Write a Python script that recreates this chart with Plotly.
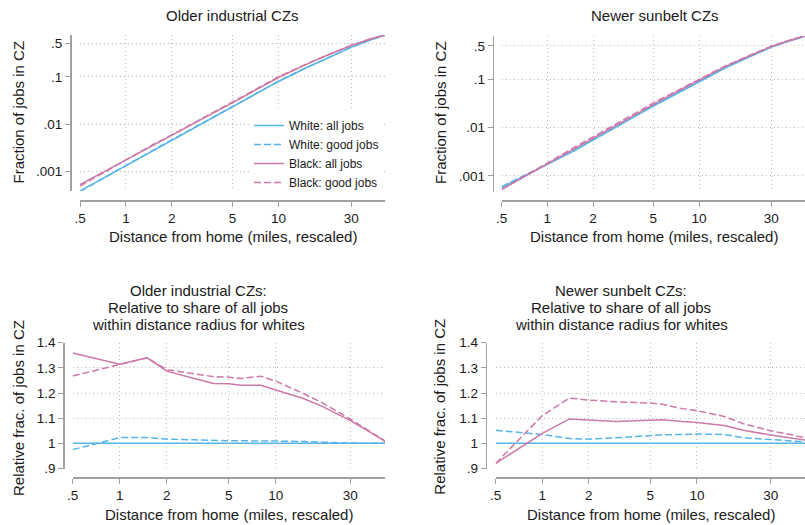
import plotly.graph_objects as go
import math

# ---------------- data ----------------
distance_miles = [0.5, 1, 1.5, 2, 3, 4, 5, 6, 8, 10, 15, 20, 30, 40, 50]

# Top panels: fraction of jobs in CZ within distance radius
old_white_all  = [0.00039, 0.00134, 0.00275, 0.0046, 0.0094, 0.0157, 0.0229, 0.0318, 0.053, 0.080, 0.152, 0.235, 0.42, 0.60, 0.76]
old_white_good = [0.00038, 0.00137, 0.00281, 0.00468, 0.00953, 0.01587, 0.02313, 0.03212, 0.05353, 0.08072, 0.1531, 0.2359, 0.4204, 0.60, 0.76]
old_black_all  = [0.00053, 0.00176, 0.00369, 0.00592, 0.01183, 0.01944, 0.02833, 0.03915, 0.06524, 0.09704, 0.1791, 0.2693, 0.4578, 0.627, 0.766]
old_black_good = [0.000495, 0.00176, 0.00369, 0.00595, 0.01201, 0.01986, 0.02892, 0.0400, 0.06715, 0.09976, 0.1821, 0.2726, 0.4603, 0.6282, 0.7676]

new_white_all  = [0.00057, 0.0017, 0.0033, 0.0055, 0.0115, 0.0192, 0.028, 0.038, 0.062, 0.090, 0.175, 0.265, 0.47, 0.64, 0.79]
new_white_good = [0.0006, 0.00176, 0.00336, 0.00559, 0.01175, 0.0197, 0.0289, 0.0393, 0.0642, 0.0933, 0.181, 0.2708, 0.477, 0.646, 0.795]
new_black_all  = [0.000524, 0.00177, 0.00362, 0.00602, 0.0125, 0.0209, 0.0306, 0.0416, 0.0674, 0.0975, 0.1874, 0.2788, 0.4855, 0.654, 0.80]
new_black_good = [0.000524, 0.00189, 0.00389, 0.00645, 0.0134, 0.0223, 0.0325, 0.0439, 0.0706, 0.1017, 0.1937, 0.2857, 0.4935, 0.662, 0.807]

# Bottom panels: relative to share of all jobs within radius for whites
old_rel_white_all  = [1.0] * 15
old_rel_white_good = [0.975, 1.023, 1.023, 1.017, 1.014, 1.011, 1.010, 1.010, 1.010, 1.009, 1.007, 1.004, 1.001, 1.000, 1.000]
old_rel_black_all  = [1.359, 1.314, 1.340, 1.287, 1.258, 1.238, 1.237, 1.231, 1.231, 1.213, 1.178, 1.146, 1.090, 1.045, 1.008]
old_rel_black_good = [1.268, 1.313, 1.340, 1.293, 1.278, 1.265, 1.263, 1.258, 1.267, 1.247, 1.198, 1.160, 1.096, 1.047, 1.010]

new_rel_white_all  = [1.0] * 15
new_rel_white_good = [1.052, 1.035, 1.019, 1.017, 1.022, 1.027, 1.032, 1.034, 1.035, 1.037, 1.035, 1.022, 1.015, 1.010, 1.006]
new_rel_black_all  = [0.920, 1.040, 1.097, 1.094, 1.087, 1.090, 1.093, 1.094, 1.087, 1.083, 1.071, 1.052, 1.033, 1.022, 1.013]
new_rel_black_good = [0.920, 1.110, 1.180, 1.172, 1.165, 1.162, 1.160, 1.155, 1.138, 1.130, 1.107, 1.078, 1.050, 1.035, 1.022]

series_names = ["White: all jobs", "White: good jobs", "Black: all jobs", "Black: good jobs"]

x_tickvals = [0.5, 1, 2, 5, 10, 30]
x_ticktext = [".5", "1", "2", "5", "10", "30"]
ytop_tickvals = [0.001, 0.01, 0.1, 0.5]
ytop_ticktext = [".001", ".01", ".1", ".5"]
ybot_tickvals = [0.9, 1.0, 1.1, 1.2, 1.3, 1.4]
ybot_ticktext = [".9", "1", "1.1", "1.2", "1.3", "1.4"]

# ---------------- style ----------------
W, H = 805, 525
BLUE = "#56B4E9"
PINK = "#CC79A7"
FONT = "Liberation Sans, Arial, sans-serif"
AXCOL = "#a0a0a0"
GRIDCOL = "#bdbdbd"
DASH = "7px,3px"
TXT = "#1a1a1a"

def fx(p):
    return p / W

def fy(p):
    return 1 - p / H

styles = [
    dict(color=BLUE, dash="solid"),
    dict(color=BLUE, dash=DASH),
    dict(color=PINK, dash="solid"),
    dict(color=PINK, dash=DASH),
]

panels = [
    dict(n=1, data=[old_white_all, old_white_good, old_black_all, old_black_good],
         xdom=(80, 385), ydom=(35, 191), xpos=200, ypos=70, logy=True,
         yrange=(0.00039, 0.765)),
    dict(n=2, data=[new_white_all, new_white_good, new_black_all, new_black_good],
         xdom=(501.7, 805), ydom=(36, 191.7), xpos=200, ypos=492.7, logy=True,
         yrange=(0.00047, 0.80)),
    dict(n=3, data=[old_rel_white_all, old_rel_white_good, old_rel_black_all, old_rel_black_good],
         xdom=(72.7, 385), ydom=(342.7, 468.5), xpos=477.3, ypos=63.3, logy=False,
         yrange=(0.9, 1.4)),
    dict(n=4, data=[new_rel_white_all, new_rel_white_good, new_rel_black_all, new_rel_black_good],
         xdom=(495.7, 805), ydom=(342.7, 468.5), xpos=477.3, ypos=485.7, logy=False,
         yrange=(0.9, 1.4)),
]

fig = go.Figure()
layout = {}
for p in panels:
    n = p["n"]
    sx = "" if n == 1 else str(n)
    for i, (vals, st) in enumerate(zip(p["data"], styles)):
        fig.add_trace(go.Scatter(
            x=distance_miles, y=vals, mode="lines",
            name=series_names[i], showlegend=(n == 1),
            line=dict(color=st["color"], dash=st["dash"], width=1.5),
            xaxis="x" + sx, yaxis="y" + sx, hoverinfo="skip",
        ))
    common = dict(
        showline=True, linecolor=AXCOL, linewidth=1.5,
        ticks="outside", ticklen=5, tickwidth=1, tickcolor=AXCOL,
        showgrid=True, gridcolor=GRIDCOL, griddash="1px,3px", gridwidth=1,
        zeroline=False, anchor="free", automargin=False,
        tickfont=dict(family=FONT, size=13.5, color=TXT),
    )
    layout["xaxis" + sx] = dict(
        common, type="log",
        domain=[fx(p["xdom"][0]), min(1.0, fx(p["xdom"][1]))],
        range=[math.log10(0.5), math.log10(50)],
        tickvals=x_tickvals, ticktext=x_ticktext,
        position=fy(p["xpos"]),
    )
    ya = dict(
        common,
        domain=[fy(p["ydom"][1]), fy(p["ydom"][0])],
        position=fx(p["ypos"]),
    )
    if p["logy"]:
        ya.update(type="log", range=[math.log10(p["yrange"][0]), math.log10(p["yrange"][1])],
                  tickvals=ytop_tickvals, ticktext=ytop_ticktext)
    else:
        ya.update(range=list(p["yrange"]), tickvals=ybot_tickvals, ticktext=ybot_ticktext)
    layout["yaxis" + sx] = ya

annotations = []
def ann(text, x, y, size=15, angle=0):
    annotations.append(dict(
        text=text, x=fx(x), y=fy(y), xref="paper", yref="paper",
        showarrow=False, xanchor="center", yanchor="middle", textangle=angle,
        font=dict(family=FONT, size=size, color=TXT),
    ))

# titles
ann("Older industrial CZs", 232.5, 15)
ann("Newer sunbelt CZs", 654.5, 15)
title_rows = [290.0, 307.3, 324.6]
for txt, yy in zip(["Older industrial CZs:", "Relative to share of all jobs", "within distance radius for whites"],
                   title_rows):
    ann(txt, 198, yy)
for txt, yy in zip(["Newer sunbelt CZs:", "Relative to share of all jobs", "within distance radius for whites"],
                   title_rows):
    ann(txt, 621, yy)

# axis titles
xt = "Distance from home (miles, rescaled)"
ann(xt, 233, 236.7)
ann(xt, 654, 236.7)
ann(xt, 229, 514)
ann(xt, 651, 514)
ann("Fraction of jobs in CZ", 18, 112.5, angle=-90)
ann("Fraction of jobs in CZ", 440, 113, angle=-90)
ann("Relative frac. of jobs in CZ", 18, 408, angle=-90)
ann("Relative frac. of jobs in CZ", 440, 406.7, angle=-90)

fig.update_layout(
    **layout,
    width=W, height=H,
    margin=dict(l=0, r=0, t=0, b=0, autoexpand=False),
    paper_bgcolor="white", plot_bgcolor="white",
    annotations=annotations,
    legend=dict(
        x=fx(249), y=fy(111), xanchor="left", yanchor="top",
        bgcolor="white", borderwidth=0, itemwidth=30,
        font=dict(family=FONT, size=12, color=TXT),
        tracegroupgap=0,
    ),
    font=dict(family=FONT),
    hovermode=False,
)

fig.write_html(
    "out.html",
    config={"displayModeBar": False, "staticPlot": True},
    post_script="document.documentElement.style.margin='0';document.body.style.margin='0';"
                "document.body.style.padding='0';document.body.style.overflow='hidden';",
)
